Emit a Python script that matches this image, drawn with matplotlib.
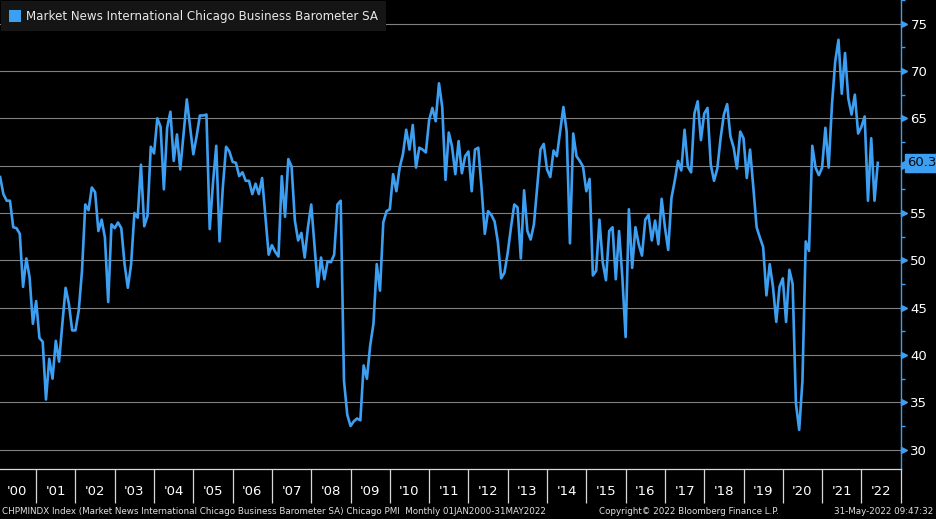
import matplotlib
matplotlib.use('Agg')
import matplotlib.pyplot as plt
from matplotlib.patches import Rectangle
import numpy as np

# Chicago PMI (SA), monthly Jan 2000 - May 2022
pmi = [
    58.8, 57.0, 56.3, 56.3, 53.5, 53.4, 52.8, 47.2, 50.2, 48.2, 43.3, 45.7,  # 2000
    41.8, 41.4, 35.3, 39.6, 37.5, 41.5, 39.3, 43.3, 47.1, 45.4, 42.6, 42.6,  # 2001
    44.7, 48.9, 55.9, 55.3, 57.7, 57.2, 53.1, 54.3, 52.4, 45.6, 53.8, 53.4,  # 2002
    54.0, 53.4, 49.6, 47.1, 49.6, 55.0, 54.5, 60.1, 53.6, 54.7, 62.0, 61.3,  # 2003
    65.0, 64.1, 57.5, 64.0, 65.7, 60.5, 63.3, 59.6, 63.3, 67.0, 64.1, 61.2,  # 2004
    63.1, 65.3, 65.3, 65.4, 53.3, 58.2, 62.1, 52.0, 57.7, 62.0, 61.5, 60.4,  # 2005
    60.3, 58.9, 59.3, 58.4, 58.4, 57.0, 58.1, 57.0, 58.7, 54.6, 50.6, 51.6,  # 2006
    50.9, 50.4, 58.9, 54.6, 60.7, 59.9, 54.2, 52.1, 52.9, 50.3, 53.5, 55.9,  # 2007
    51.5, 47.2, 50.3, 48.0, 49.9, 49.8, 50.6, 55.9, 56.3, 37.3, 33.7, 32.5,  # 2008
    33.0, 33.3, 33.1, 38.9, 37.5, 41.0, 43.3, 49.6, 46.8, 54.0, 55.2, 55.4,  # 2009
    59.1, 57.3, 59.8, 61.2, 63.8, 61.7, 64.3, 59.8, 61.9, 61.7, 61.4, 64.8,  # 2010
    66.1, 64.7, 68.7, 66.2, 58.5, 63.5, 62.0, 59.1, 62.6, 59.2, 61.0, 61.5,  # 2011
    57.3, 61.7, 61.9, 57.7, 52.8, 55.2, 54.8, 54.1, 51.9, 48.1, 48.7, 50.8,  # 2012
    53.5, 55.9, 55.6, 50.2, 57.4, 53.1, 52.2, 53.8, 57.7, 61.7, 62.3, 59.6,  # 2013
    58.8, 61.6, 61.0, 63.6, 66.2, 63.6, 51.8, 63.4, 61.0, 60.5, 59.9, 57.3,  # 2014
    58.6, 48.4, 48.9, 54.3, 49.8, 47.9, 53.1, 53.5, 48.0, 53.1, 48.2, 41.9,  # 2015
    55.4, 49.2, 53.5, 51.7, 50.5, 54.3, 54.8, 52.1, 54.2, 51.7, 56.5, 53.5,  # 2016
    51.1, 56.6, 58.4, 60.5, 59.5, 63.8, 59.9, 59.3, 65.5, 66.8, 62.7, 65.5,  # 2017
    66.1, 60.1, 58.4, 59.7, 62.9, 65.4, 66.5, 63.1, 61.9, 59.7, 63.6, 62.9,  # 2018
    58.7, 61.7, 57.7, 53.5, 52.4, 51.4, 46.3, 49.6, 47.2, 43.5, 47.2, 48.1,  # 2019
    43.5, 49.0, 47.5, 34.9, 32.1, 37.3, 52.0, 51.0, 62.1, 59.8, 59.0, 59.8,  # 2020
    64.0, 59.8, 66.4, 71.0, 73.3, 67.6, 71.9, 67.1, 65.4, 67.5, 63.4, 64.1,  # 2021
    65.2, 56.3, 62.9, 56.3, 60.3,                                            # 2022
]
start_year = 2000
years = list(range(2000, 2023))
year_labels = ["'%02d" % (y % 100) for y in years]
y_ticks = [30, 35, 40, 45, 50, 55, 60, 65, 70, 75]

BLUE = '#3d9ff2'
W, H = 936, 519

# month-end dates as fractional years
x = start_year + (np.arange(len(pmi)) + 1) / 12.0
last = pmi[-1]

fig = plt.figure(figsize=(W / 100, H / 100), dpi=100, facecolor='black')
ax = fig.add_axes([0, 1 - 469.3 / H, 900.7 / W, 469.3 / H], facecolor='black')

ax.plot(x, pmi, color=BLUE, lw=1.9, solid_joinstyle='round', zorder=3)

ax.set_xlim(2000.08, 2023.0)
ax.set_ylim(27.93, 77.28)

# y axis on the right; the last-value tag sits over the tick label it covers
ax.yaxis.tick_right()
ax.set_yticks(y_ticks)
ax.set_yticklabels(['' if abs(t - last) < 1.5 else str(t) for t in y_ticks])
ax.set_yticks([t + 2.5 for t in y_ticks], minor=True)
ax.grid(axis='y', which='major', color='#808080', lw=0.8)
ax.tick_params(axis='y', which='major', length=0, labelcolor='white', labelsize=9.5, pad=7)
ax.tick_params(axis='y', which='minor', length=3, width=1, color=BLUE, direction='out')
ax.plot(np.full(len(y_ticks), 1.004), y_ticks, ls='none', marker='>', ms=5,
        color=BLUE, transform=ax.get_yaxis_transform(), clip_on=False, zorder=5)

# x axis: year separators + centered labels
ax.set_xticks(years[1:] + [2023])
ax.set_xticklabels([])
ax.set_xticks([y + 0.5 for y in years], minor=True)
ax.set_xticklabels(year_labels, minor=True)
ax.tick_params(axis='x', which='major', length=24.5, width=0.9, color='#d8d8d8', direction='out')
ax.tick_params(axis='x', which='minor', length=0, labelcolor='white', labelsize=9.5, pad=11)

for s in ['left', 'top']:
    ax.spines[s].set_visible(False)
ax.spines['right'].set_color(BLUE)
ax.spines['right'].set_linewidth(1.0)
ax.spines['bottom'].set_color('#d8d8d8')
ax.spines['bottom'].set_linewidth(0.9)

# last value tag
ax.plot([1.004], [last], ls='none', marker='<', ms=5, color=BLUE,
        transform=ax.get_yaxis_transform(), clip_on=False, zorder=5)
ax.text(1.0075, last, '%.1f' % last, transform=ax.get_yaxis_transform(),
        color='#0a0a0a', fontsize=9.5, va='center', ha='left', zorder=6,
        bbox=dict(boxstyle='square,pad=0.18', fc=BLUE, ec=BLUE))

# legend box
fig.add_artist(Rectangle((1 / W, 1 - 31 / H), 385 / W, 30 / H, transform=fig.transFigure,
                         fc='#151515', ec='none', zorder=4))
fig.add_artist(Rectangle((9 / W, 1 - 22 / H), 12 / W, 12 / H, transform=fig.transFigure,
                         fc=BLUE, ec='none', zorder=5))
fig.text(26 / W, 1 - 16.5 / H, 'Market News International Chicago Business Barometer SA',
         color='#e8e8e8', fontsize=8.6, va='center', ha='left', zorder=6)

# footer
foot = dict(color='#e0e0e0', fontsize=6.3, va='center', family=['Liberation Sans Narrow', 'DejaVu Sans'])
fig.text(2 / W, 1 - 512 / H,
         'CHPMINDX Index (Market News International Chicago Business Barometer SA) Chicago PMI  Monthly 01JAN2000-31MAY2022',
         ha='left', **foot)
fig.text(689 / W, 1 - 512 / H, 'Copyright\u00a9 2022 Bloomberg Finance L.P.', ha='center', **foot)
fig.text(933 / W, 1 - 512 / H, '31-May-2022 09:47:32', ha='right', **foot)

fig.savefig('out.png', dpi=100, facecolor='black')
